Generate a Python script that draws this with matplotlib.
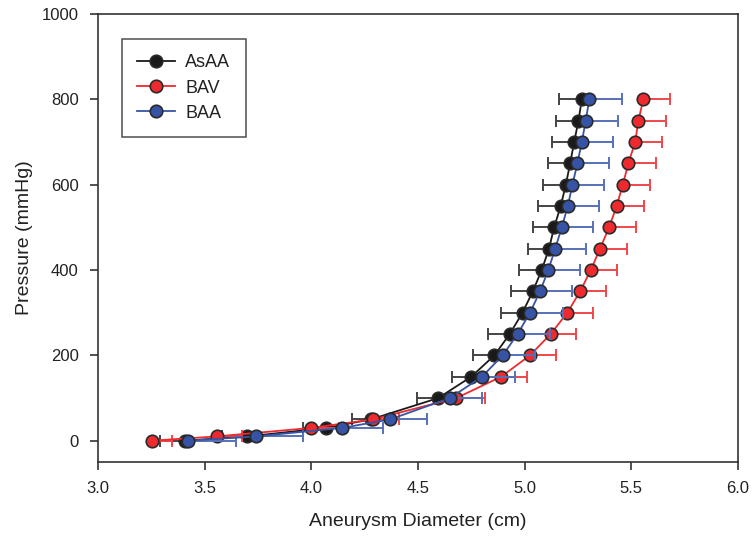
import numpy as np
import matplotlib.pyplot as plt

plt.rcParams['font.family'] = ['Liberation Sans', 'DejaVu Sans']

pressure = [0, 10, 30, 50, 100, 150, 200, 250, 300, 350, 400, 450, 500, 550, 600, 650, 700, 750, 800]

asaa_d = [3.41, 3.70, 4.07, 4.28, 4.595, 4.75, 4.858, 4.93, 4.99, 5.038, 5.08, 5.114,
          5.138, 5.169, 5.193, 5.213, 5.232, 5.252, 5.268]
asaa_err = [0.12, 0.12, 0.11, 0.09, 0.10, 0.09, 0.10, 0.10, 0.10, 0.10, 0.105, 0.10,
            0.10, 0.105, 0.105, 0.105, 0.105, 0.106, 0.105]

bav_d = [3.253, 3.556, 4.00, 4.29, 4.68, 4.89, 5.025, 5.122, 5.20, 5.26, 5.31, 5.353,
         5.396, 5.431, 5.46, 5.486, 5.518, 5.533, 5.556]
bav_err = [0.095, 0.117, 0.13, 0.12, 0.135, 0.12, 0.12, 0.12, 0.12, 0.12, 0.125, 0.125,
           0.125, 0.126, 0.128, 0.13, 0.124, 0.13, 0.125]

baa_d = [3.42, 3.74, 4.145, 4.37, 4.65, 4.80, 4.897, 4.967, 5.025, 5.072, 5.111, 5.143,
         5.174, 5.202, 5.224, 5.247, 5.268, 5.286, 5.303]
baa_err = [0.225, 0.22, 0.19, 0.17, 0.15, 0.155, 0.15, 0.15, 0.155, 0.15, 0.15, 0.145,
           0.145, 0.147, 0.148, 0.15, 0.148, 0.15, 0.152]

fig = plt.figure(figsize=(7.52, 5.40), dpi=100)
ax = fig.add_axes([0.1303, 0.1444, 0.8511, 0.8296])

edge = '#2a2a2a'
zeros = [0] * len(pressure)

# black: error to the left, red and blue: error to the right
series = [
    ('AsAA', asaa_d, [asaa_err, zeros], '#1a1a1a', '#444444'),
    ('BAV', bav_d, [zeros, bav_err], '#ee2a2f', '#f0474c'),
    ('BAA', baa_d, [zeros, baa_err], '#3653a5', '#5670b8'),
]

z = 2
for label, d, xerr, color, ecolor in series:
    ax.errorbar(d, pressure, xerr=xerr, fmt='none', ecolor=ecolor, elinewidth=1.4,
                capsize=4.5, capthick=1.4, zorder=z)
    ax.plot(d, pressure, '-', color=color, lw=1.3, zorder=z + 0.1)
    ax.plot(d, pressure, 'o', color=color, markersize=9, markeredgecolor=edge,
            markeredgewidth=1.2, zorder=z + 0.2)
    ax.plot([], [], '-o', color=color, markersize=9, markeredgecolor=edge,
            markeredgewidth=1.2, lw=1.3, label=label)
    z += 1

ax.set_xlim(3.0, 6.0)
ax.set_ylim(-50, 1000)
ax.set_xticks(np.arange(3.0, 6.01, 0.5))
ax.set_xticklabels(['%.1f' % v for v in np.arange(3.0, 6.01, 0.5)])
ax.set_yticks(np.arange(0, 1001, 200))

for s in ax.spines.values():
    s.set_color('#333333')
    s.set_linewidth(1.2)
ax.tick_params(direction='out', length=6, width=1.2, color='#333333',
               labelsize=12, pad=8, labelcolor='#222222')

ax.set_xlabel('Aneurysm Diameter (cm)', fontsize=14, labelpad=12, color='#222222')
ax.set_ylabel('Pressure (mmHg)', fontsize=14, labelpad=6, color='#222222')

leg = ax.legend(loc='upper left', bbox_to_anchor=(0.0375, 0.944), borderaxespad=0,
                fontsize=13, frameon=True, fancybox=False, handlelength=2.1,
                handletextpad=0.55, borderpad=0.85, labelspacing=0.45)
leg.get_frame().set_edgecolor('#333333')
leg.get_frame().set_linewidth(1.2)
for t in leg.get_texts():
    t.set_color('#222222')

fig.savefig('out.png', dpi=100)
